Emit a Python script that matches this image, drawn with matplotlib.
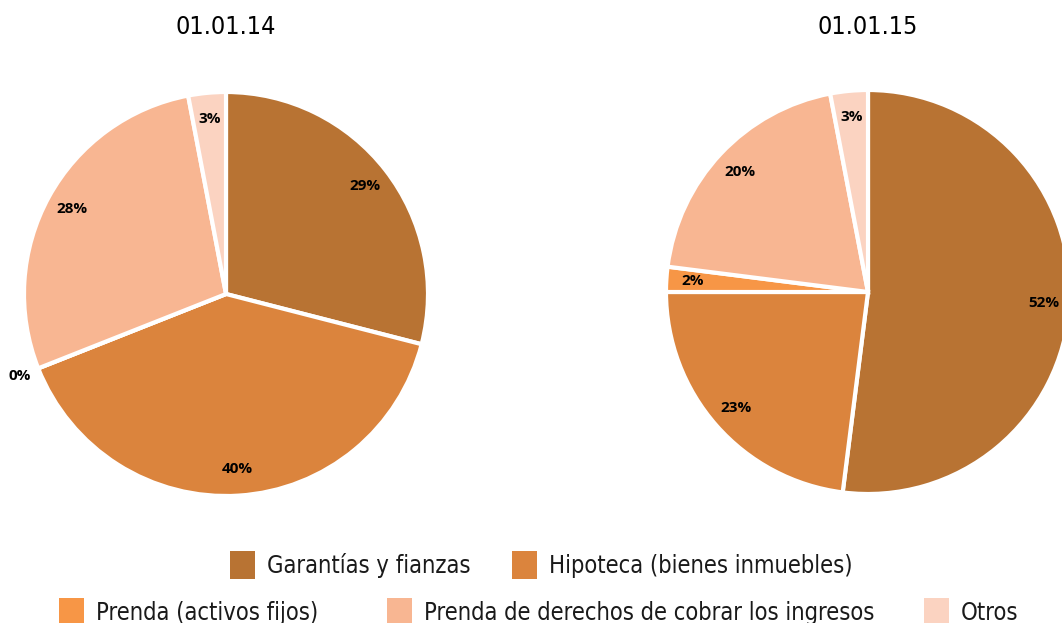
import numpy as np
import matplotlib
matplotlib.use("Agg")
import matplotlib.pyplot as plt
from matplotlib.patches import Patch
from matplotlib import font_manager
from matplotlib.font_manager import FontProperties

categorias = ["Garantías y fianzas", "Hipoteca (bienes inmuebles)", "Prenda (activos fijos)",
              "Prenda de derechos de cobrar los ingresos", "Otros"]
valores_14 = [29, 40, 0, 28, 3]
valores_15 = [52, 23, 2, 20, 3]
titulos = ["01.01.14", "01.01.15"]
colores = ["#B87333", "#DB843D", "#F79646", "#F8B692", "#FBD3C1"]

# letra estrecha si existe (parecida a Calibri), si no DejaVu normal mas pequeña
archivo = font_manager.findfont(FontProperties(family="DejaVu Sans", stretch="condensed"))
if "Condensed" in archivo:
	letra = dict(family="DejaVu Sans", stretch="condensed")
	tam = 17
else:
	letra = dict(family="DejaVu Sans")
	tam = 15

W, H = 1062, 623
fig = plt.figure(figsize=(W / 100, H / 100), dpi=100)


def pastel(cx, cy, r, valores, titulo):
	ax = fig.add_axes([(cx - r) / W, (H - cy - r) / H, 2 * r / W, 2 * r / H])
	wedges, texts, autotexts = ax.pie(valores, colors=colores, startangle=90, counterclock=False,
		autopct=lambda p: "%d%%" % round(p), pctdistance=0.87,
		wedgeprops=dict(edgecolor="white", linewidth=3),
		textprops=dict(fontsize=11, fontweight="bold", family="Open Sans", color="black"))
	# la etiqueta del 0% va fuera del circulo
	for v, t in zip(valores, autotexts):
		if v == 0:
			x, y = t.get_position()
			t.set_position((x * 1.1 / 0.87, y * 1.1 / 0.87))
	ax.set_xlim(-1, 1)
	ax.set_ylim(-1, 1)
	ax.set_aspect("equal")
	fig.text(cx / W, 1 - 27 / H, titulo, ha="center", va="center", fontsize=tam + 1, color="black", **letra)
	return ax


pastel(226, 294, 202, valores_14, titulos[0])
pastel(868, 292, 202, valores_15, titulos[1])

# leyenda: una entrada por caja, como en Excel (2 arriba, 3 abajo)
prop = FontProperties(size=tam, **letra)
px = tam * 100 / 72.0
pos_x = [230, 512, 59, 387, 924]
pos_y = [565, 565, 612, 612, 612]
for i in range(len(categorias)):
	leg = fig.legend([Patch(facecolor=colores[i], edgecolor="none")], [categorias[i]],
		loc="center left", bbox_to_anchor=(pos_x[i] / W, 1 - pos_y[i] / H),
		frameon=False, prop=prop, borderpad=0, borderaxespad=0,
		handlelength=25 / px, handleheight=1.5, handletextpad=12 / px)
	leg.get_texts()[0].set_color("#1a1a1a")

fig.savefig("out.png", dpi=100)
